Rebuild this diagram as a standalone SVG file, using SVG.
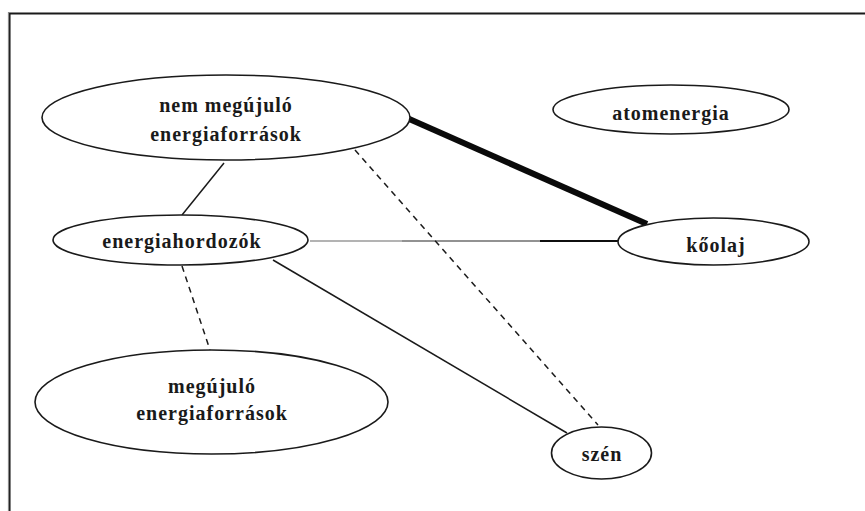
<svg xmlns="http://www.w3.org/2000/svg" width="865" height="511" viewBox="0 0 865 511">
  <style>
    .node ellipse { fill: #ffffff; stroke: #1a1a1a; stroke-width: 1.6; }
    .label { font-family: 'Liberation Serif', 'DejaVu Serif', 'Times New Roman', serif; font-weight: bold; font-size: 20px; letter-spacing: 1px; fill: #1a1a1a; text-anchor: middle; }
    .edge { fill: none; stroke-width: 1.5; }
    .dash { stroke-dasharray: 6 5; }
  </style>
  <rect width="865" height="511" fill="#ffffff"/>

  <!-- frame -->
  <g id="frame" fill="none">
    <path d="M8.5 511 V12.5 H865" stroke="#8a8a8a" stroke-width="1.2"/>
    <path d="M9.8 511 V13.8 H865" stroke="#1a1a1a" stroke-width="1.5"/>
  </g>

  <!-- connectors -->
  <g id="connectors">
    <line x1="407" y1="118" x2="647" y2="224" style="stroke:#0a0a0a;stroke-width:6"/>
    <line class="edge" x1="224" y1="163" x2="182" y2="215" style="stroke:#1a1a1a"/>
    <line class="edge" x1="310" y1="241" x2="402" y2="241" style="stroke:#9a9a9a"/>
    <line class="edge" x1="402" y1="241" x2="540" y2="241" style="stroke:#6e6e6e"/>
    <line class="edge" x1="540" y1="241" x2="619" y2="241" style="stroke:#0f0f0f;stroke-width:2"/>
    <line class="edge dash" x1="355" y1="150" x2="598" y2="425" style="stroke:#1a1a1a"/>
    <line class="edge" x1="273" y1="260" x2="567" y2="433" style="stroke:#1a1a1a"/>
    <line class="edge dash" x1="182" y1="266" x2="210" y2="350" style="stroke:#1a1a1a"/>
  </g>

  <g id="nem-megujulo" class="node">
    <ellipse cx="226" cy="117.5" rx="184" ry="42.5"/>
    <text class="label" x="226" y="112">nem megújuló</text>
    <text class="label" x="226" y="141">energiaforrások</text>
  </g>

  <g id="atomenergia" class="node">
    <ellipse cx="671" cy="109.5" rx="118" ry="24.5"/>
    <text class="label" x="671" y="120">atomenergia</text>
  </g>

  <g id="energiahordozok" class="node">
    <ellipse cx="180.5" cy="240" rx="127.5" ry="25"/>
    <text class="label" x="182" y="248">energiahordozók</text>
  </g>

  <g id="koolaj" class="node">
    <ellipse cx="713.5" cy="241.5" rx="95.5" ry="23.5"/>
    <text class="label" x="716" y="252">kőolaj</text>
  </g>

  <g id="megujulo" class="node">
    <ellipse cx="211.5" cy="402" rx="176.5" ry="52"/>
    <text class="label" x="212" y="393">megújuló</text>
    <text class="label" x="212" y="420">energiaforrások</text>
  </g>

  <g id="szen" class="node">
    <ellipse cx="601.5" cy="453" rx="50" ry="26"/>
    <text class="label" x="602" y="461">szén</text>
  </g>
</svg>
